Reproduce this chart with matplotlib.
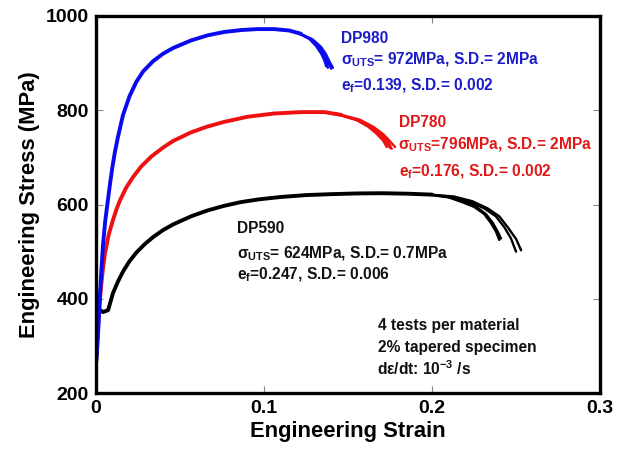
import matplotlib
matplotlib.use("Agg")
import matplotlib.pyplot as plt

# engineering stress-strain data (strain, MPa)
# shared part of the 4 tests, then each test's own tail to fracture
dp980_strain = [0, 0.0008, 0.0016, 0.0024, 0.0033, 0.0042, 0.0055, 0.0072, 0.0084, 0.0098,
                0.0113, 0.0130, 0.0161, 0.020, 0.024, 0.028, 0.034, 0.040, 0.046, 0.0566,
                0.0667, 0.0765, 0.0865, 0.096, 0.106, 0.115, 0.122]
dp980_stress = [262, 300, 350, 410, 465, 515, 565, 612, 645, 680,
                712, 742, 790, 830, 860, 882, 904, 920, 932, 948,
                959, 966, 970, 972, 972, 969, 962]
dp980_tails = [
    ([0.120, 0.127, 0.131, 0.134, 0.136, 0.137], [964, 951, 936, 920, 905, 893]),
    ([0.120, 0.128, 0.132, 0.135, 0.137, 0.138], [964, 951, 936, 920, 904, 890]),
    ([0.120, 0.128, 0.133, 0.136, 0.138, 0.140], [965, 950, 934, 918, 902, 888]),
    ([0.120, 0.129, 0.134, 0.137, 0.139, 0.141], [965, 950, 934, 918, 903, 890]),
]

dp780_strain = [0, 0.001, 0.002, 0.003, 0.0042, 0.0054, 0.0075, 0.0101, 0.0122, 0.0143,
                0.018, 0.022, 0.027, 0.033, 0.040, 0.046, 0.0566, 0.066, 0.076, 0.090,
                0.106, 0.122, 0.136, 0.146]
dp780_stress = [262, 330, 385, 425, 465, 497, 535, 567, 590, 609,
                636, 658, 681, 702, 721, 735, 753, 765, 775, 786,
                793, 796, 796, 790]
dp780_tails = [
    ([0.143, 0.155, 0.162, 0.167, 0.171, 0.173], [792, 779, 765, 750, 735, 722]),
    ([0.143, 0.156, 0.163, 0.168, 0.172, 0.175], [792, 779, 765, 750, 734, 720]),
    ([0.143, 0.156, 0.164, 0.170, 0.174, 0.176], [792, 779, 764, 748, 732, 718]),
    ([0.143, 0.157, 0.165, 0.171, 0.175, 0.178], [793, 780, 765, 749, 734, 722]),
]

dp590_strain = [0, 0.0005, 0.001, 0.0015, 0.0025, 0.0042, 0.0072, 0.0085, 0.0101, 0.013,
                0.0161, 0.020, 0.024, 0.029, 0.034, 0.040, 0.046, 0.0566, 0.066, 0.076,
                0.086, 0.097, 0.110, 0.125, 0.140, 0.155, 0.170, 0.185, 0.200]
dp590_stress = [262, 300, 340, 370, 376, 372, 376, 392, 412, 436,
                458, 480, 498, 516, 531, 546, 558, 575, 587, 597,
                605, 611, 616, 620, 622, 623.5, 624, 623, 621]
dp590_tails = [
    ([0.196, 0.210, 0.218, 0.225, 0.231, 0.235, 0.238, 0.240], [622, 615, 605, 595, 580, 561, 543, 525]),
    ([0.196, 0.210, 0.219, 0.226, 0.232, 0.236, 0.239, 0.241], [622, 616, 606, 596, 580, 562, 543, 528]),
    ([0.196, 0.212, 0.222, 0.231, 0.238, 0.243, 0.247, 0.250], [622, 616, 606, 592, 575, 552, 528, 500]),
    ([0.196, 0.213, 0.224, 0.233, 0.240, 0.245, 0.250, 0.253], [622, 617, 607, 592, 575, 552, 527, 503]),
]

x_ticks = [0, 0.1, 0.2, 0.3]
x_tick_labels = ["0", "0.1", "0.2", "0.3"]
y_ticks = [200, 400, 600, 800, 1000]

plt.rcParams['font.family'] = ['Liberation Sans', 'DejaVu Sans']
plt.rcParams['font.weight'] = 'bold'
plt.rcParams['mathtext.fontset'] = 'custom'
plt.rcParams['mathtext.rm'] = 'Liberation Sans:bold'
plt.rcParams['mathtext.it'] = 'Liberation Sans:bold'
plt.rcParams['mathtext.bf'] = 'Liberation Sans:bold'

fig = plt.figure(figsize=(6.18, 4.54), dpi=100)
ax = fig.add_axes([0.1553, 0.134, 0.8157, 0.831])

materials = [
    (dp590_strain, dp590_stress, dp590_tails, 'black'),
    (dp780_strain, dp780_stress, dp780_tails, '#ee1111'),
    (dp980_strain, dp980_stress, dp980_tails, '#0a0aee'),
]
for strain, stress, tails, col in materials:
    ax.plot(strain, stress, color=col, lw=2.8, solid_capstyle='round',
            solid_joinstyle='round')
    for ts, tsig in tails:
        ax.plot(ts, tsig, color=col, lw=1.7, solid_capstyle='round',
                solid_joinstyle='round')

ax.set_xlim(0, 0.3)
ax.set_ylim(200, 1000)
ax.set_xticks(x_ticks)
ax.set_xticklabels(x_tick_labels)
ax.set_yticks(y_ticks)
ax.tick_params(direction='in', length=5, width=0.8, color='#888888',
               labelsize=14, pad=5, top=True, right=True)
for lab in ax.get_xticklabels() + ax.get_yticklabels():
    lab.set_fontweight('bold')
for sp in ax.spines.values():
    sp.set_linewidth(2.4)

ax.set_xlabel('Engineering Strain', fontsize=15.8, fontweight='bold', labelpad=3)
ax.set_ylabel('Engineering Stress (MPa)', fontsize=15.8, fontweight='bold', labelpad=4)

fs = 11.2
blue_t = '#1c1cc8'
red_t = '#e01818'
ax.text(0.146, 953, 'DP980', color=blue_t, fontsize=fs, va='center')
ax.text(0.146, 907, r'$\sigma_{UTS}$= 972MPa, S.D.= 2MPa', color=blue_t, fontsize=fs, va='center')
ax.text(0.146, 852, r'$e_f$=0.139, S.D.= 0.002', color=blue_t, fontsize=fs, va='center')

ax.text(0.1805, 774, 'DP780', color=red_t, fontsize=fs, va='center')
ax.text(0.1798, 726, r'$\sigma_{UTS}$=796MPa, S.D.= 2MPa', color=red_t, fontsize=fs, va='center')
ax.text(0.1805, 670, r'$e_f$=0.176, S.D.= 0.002', color=red_t, fontsize=fs, va='center')

ax.text(0.084, 550, 'DP590', color='#111111', fontsize=fs, va='center')
ax.text(0.084, 495, r'$\sigma_{UTS}$= 624MPa, S.D.= 0.7MPa', color='#111111', fontsize=fs, va='center')
ax.text(0.084, 450, r'$e_f$=0.247, S.D.= 0.006', color='#111111', fontsize=fs, va='center')

ax.text(0.168, 344, '4 tests per material', color='#111111', fontsize=fs, va='center')
ax.text(0.168, 297, '2% tapered specimen', color='#111111', fontsize=fs, va='center')
ax.text(0.167, 253, r'd$\epsilon$/dt: 10$^{-3}$ /s', color='#111111', fontsize=fs, va='center')

fig.savefig('out.png', dpi=100)
